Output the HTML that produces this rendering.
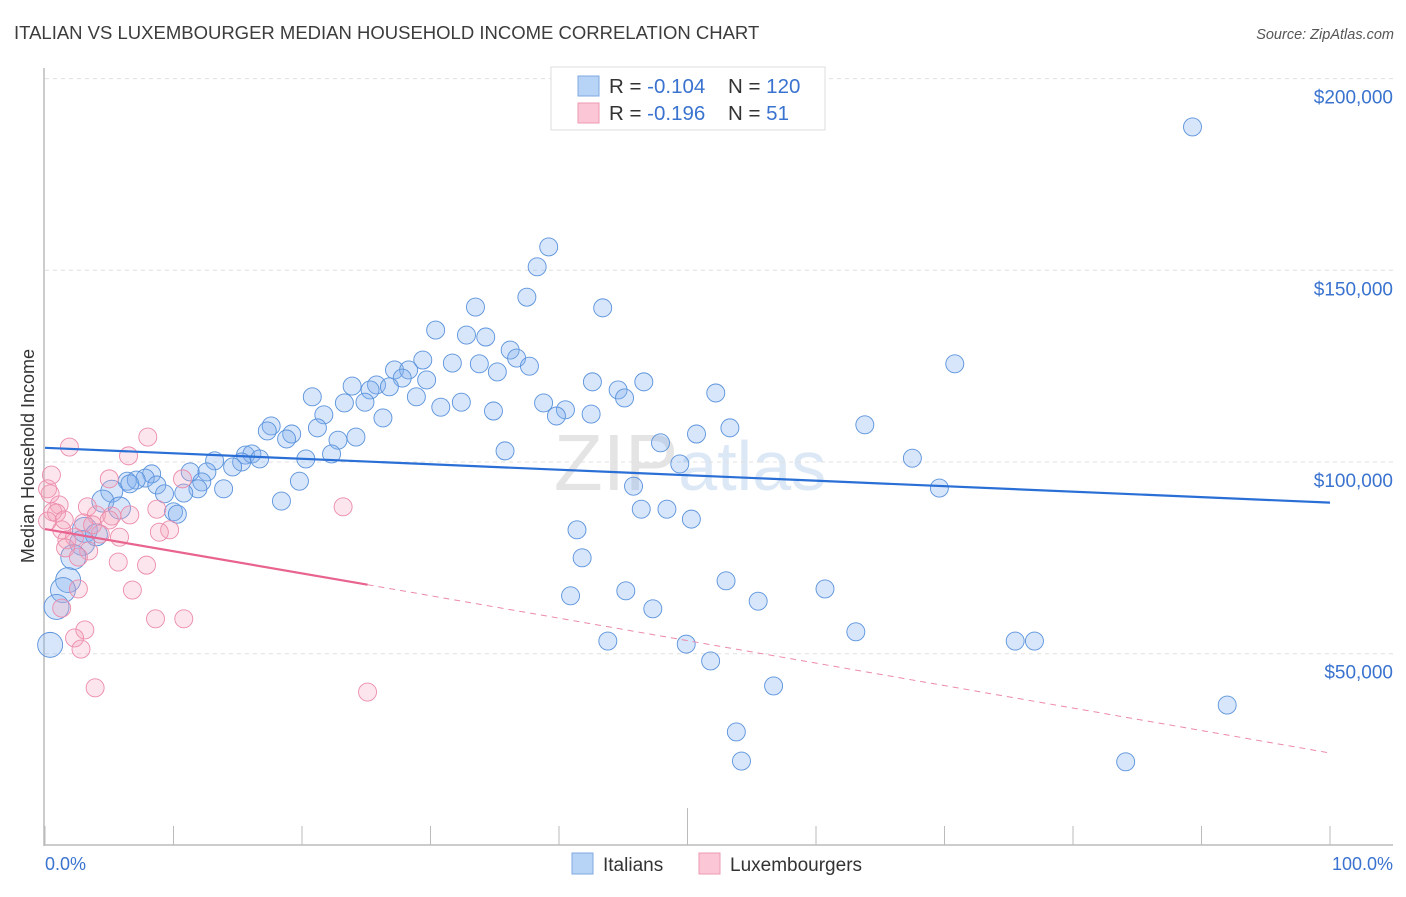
<!DOCTYPE html>
<html><head><meta charset="utf-8"><style>
body{margin:0;background:#fff;font-family:"Liberation Sans",sans-serif;}
svg text{font-family:"Liberation Sans",sans-serif;}
</style></head><body>
<svg id="chart" width="1406" height="892" xmlns="http://www.w3.org/2000/svg">
<text x="14" y="39" font-size="18.5" fill="#3c3c3c">ITALIAN VS LUXEMBOURGER MEDIAN HOUSEHOLD INCOME CORRELATION CHART</text>
<text x="1394" y="39" font-size="14.5" font-style="italic" fill="#555" text-anchor="end">Source: ZipAtlas.com</text>
<text x="690" y="490" font-size="80" fill="#e4e4e4" text-anchor="middle" font-family="Liberation Serif">ZIP<tspan fill="#dce8f5" font-family="Liberation Sans" font-size="70">atlas</tspan></text>
<g id="grid"></g>
<g id="axes"></g>
<text transform="translate(34,456) rotate(-90)" font-size="18" fill="#333" text-anchor="middle">Median Household Income</text>
<g id="pts"></g>
<g id="trend"></g>
<g>
<rect x="551" y="67" width="274" height="63" fill="#fff" stroke="#ddd"/>
<rect x="578" y="76" width="21" height="20" fill="#b7d3f5" stroke="#7fa9e0"/>
<rect x="578" y="103" width="21" height="20" fill="#fbc6d5" stroke="#ee9ab2"/>
<text x="609" y="93" font-size="20.5" fill="#333">R = <tspan fill="#3a73cf">-0.104</tspan></text>
<text x="728" y="93" font-size="20.5" fill="#333">N = <tspan fill="#3a73cf">120</tspan></text>
<text x="609" y="120" font-size="20.5" fill="#333">R = <tspan fill="#3a73cf"> -0.196</tspan></text>
<text x="728" y="120" font-size="20.5" fill="#333">N = <tspan fill="#3a73cf">  51</tspan></text>
</g>
<g>
<rect x="572" y="853" width="21" height="21" fill="#b7d3f5" stroke="#7fa9e0"/>
<text x="603" y="871" font-size="19" fill="#333">Italians</text>
<rect x="699" y="853" width="21" height="21" fill="#fbc6d5" stroke="#ee9ab2"/>
<text x="730" y="871" font-size="19" fill="#333">Luxembourgers</text>
</g>
<text x="45" y="870" font-size="18" fill="#3a73cf">0.0%</text>
<text x="1393" y="870" font-size="18" fill="#3a73cf" text-anchor="end">100.0%</text>
</svg>
<script>
const yTicks=[50000,100000,150000,200000];
const yTickLabels=["$50,000","$100,000","$150,000","$200,000"];
const blueX=[89.3,39.2,38.3,37.5,33.5,43.4,30.4,32.8,34.3,36.2,36.7,29.4,31.7,33.8,37.7,70.8,35.2,27.2,28.3,29.7,27.8,42.6,46.6,23.9,25.8,26.8,25.3,44.6,52.2,20.8,28.9,45.1,24.9,23.3,32.4,38.8,30.8,34.9,40.5,21.7,42.5,39.8,26.3,21.2,17.6,17.3,53.3,63.8,19.2,18.8,24.2,22.8,50.7,47.9,35.8,22.3,15.6,16.1,16.7,20.3,67.5,13.2,15.3,49.4,14.6,11.3,12.6,8.3,7.8,6.4,7.1,12.2,19.8,8.7,45.8,69.6,6.6,13.9,11.9,5.2,10.8,9.3,4.5,18.4,5.8,46.4,48.4,10.0,10.3,50.3,41.4,3.1,4.0,2.9,41.8,2.2,1.8,53.0,1.4,60.7,40.9,45.2,55.5,47.3,0.9,63.1,75.5,77.0,43.8,49.9,0.4,51.8,56.7,92.0,53.8,54.2,84.1];
const blueY=[187400,156100,150900,143000,140400,140200,134400,133100,132600,129200,127100,126600,125800,125600,125000,125600,123500,124000,124000,121400,121900,120900,120900,119800,120100,119600,118800,118800,118000,117000,117000,116700,115600,115400,115600,115400,114300,113300,113600,112300,112500,112000,111500,108900,109400,108100,108900,109700,107300,106000,106500,105700,107300,105000,102900,102100,101800,102100,100800,100800,101000,100300,100000,99500,98700,97400,97400,96900,95800,95000,95300,94800,95000,94000,93700,93200,94300,93000,93000,92400,91900,91700,89800,89800,88000,87700,87700,87000,86400,85100,82300,82300,81000,78900,75000,75200,69200,69000,66600,66900,65100,66400,63700,61700,62200,55700,53300,53300,53300,52500,52300,48100,41600,36600,29600,22000,21800];
const pinkX=[1.9,8.0,0.5,5.0,10.7,6.5,0.2,0.4,1.1,3.3,8.7,23.2,0.6,0.9,4.0,5.2,6.6,5.0,3.0,9.7,8.9,1.3,4.3,5.8,1.7,2.3,1.6,3.4,2.6,5.7,7.9,6.8,2.6,1.3,8.6,10.8,3.1,2.3,2.8,3.9,25.1,0.2,1.5,3.7];
const pinkY=[103900,106500,96600,95600,95600,101600,93000,91700,88800,88300,87700,88300,87000,86700,86200,85900,86200,84900,84100,82300,81700,82300,81200,80400,79700,80400,77600,76800,75200,73900,73100,66600,66900,61900,59100,59100,56200,54100,51200,41100,40000,84600,84900,83600];
const blueTrend=[103700,89400];
const pinkTrend=[82500,68000,24100];
const NS="http://www.w3.org/2000/svg";
function xS(p){return 45+p*12.85;}
function yS(v){return 462-(v-100000)*191.7/50000;}
function mk(t,a,parent){const e=document.createElementNS(NS,t);for(const k in a)e.setAttribute(k,a[k]);parent.appendChild(e);return e;}
const grid=document.getElementById('grid'),axes=document.getElementById('axes'),pts=document.getElementById('pts'),tr=document.getElementById('trend');
yTicks.forEach((v,i)=>{
 const l=mk('line',{x1:45,x2:1393,y1:yS(v),y2:yS(v),stroke:'#e0e0e0','stroke-dasharray':'4,4'},grid);
 
 
 const t=mk('text',{x:1393,y:yS(v)+25,'font-size':19,fill:'#3a73cf','text-anchor':'end'},grid);
 t.textContent=yTickLabels[i];
 
 
});
const ya=mk('line',{x1:44,x2:44,y1:68,y2:846,stroke:'#bbb','stroke-width':1.5},axes);


const xa=mk('line',{x1:44,x2:1393,y1:845,y2:845,stroke:'#bbb','stroke-width':1.5},axes);


for(let i=0;i<=10;i++){
 const tk=mk('line',{x1:xS(i*10),x2:xS(i*10),y1:i==5?808:826,y2:845,stroke:'#bbb'},axes);
 
 
}
function big(i,x){return x<3.5?12.5:(x<6?11:9);}
blueX.forEach((x,i)=>{
 const c=mk('circle',{cx:xS(x),cy:yS(blueY[i]),r:big(i,x),fill:'rgba(130,178,238,0.32)',stroke:'#5b93dc','stroke-width':0.9},pts);
 
 
});
pinkX.forEach((x,i)=>{
 const c=mk('circle',{cx:xS(x),cy:yS(pinkY[i]),r:9,fill:'rgba(245,160,188,0.28)',stroke:'#ec8cab','stroke-width':0.9},pts);
 
 
});
const bt=mk('line',{x1:xS(0),y1:yS(blueTrend[0]),x2:xS(100),y2:yS(blueTrend[1]),stroke:'#2a6fd6','stroke-width':2.2},tr);


const pt=mk('line',{x1:xS(0),y1:yS(pinkTrend[0]),x2:xS(25.1),y2:yS(pinkTrend[1]),stroke:'#e8638e','stroke-width':2.2},tr);


const pd=mk('line',{x1:xS(25.1),y1:yS(pinkTrend[1]),x2:xS(100),y2:yS(pinkTrend[2]),stroke:'#ec8aa8','stroke-width':1,'stroke-dasharray':'6,5'},tr);


</script>
</body></html>
